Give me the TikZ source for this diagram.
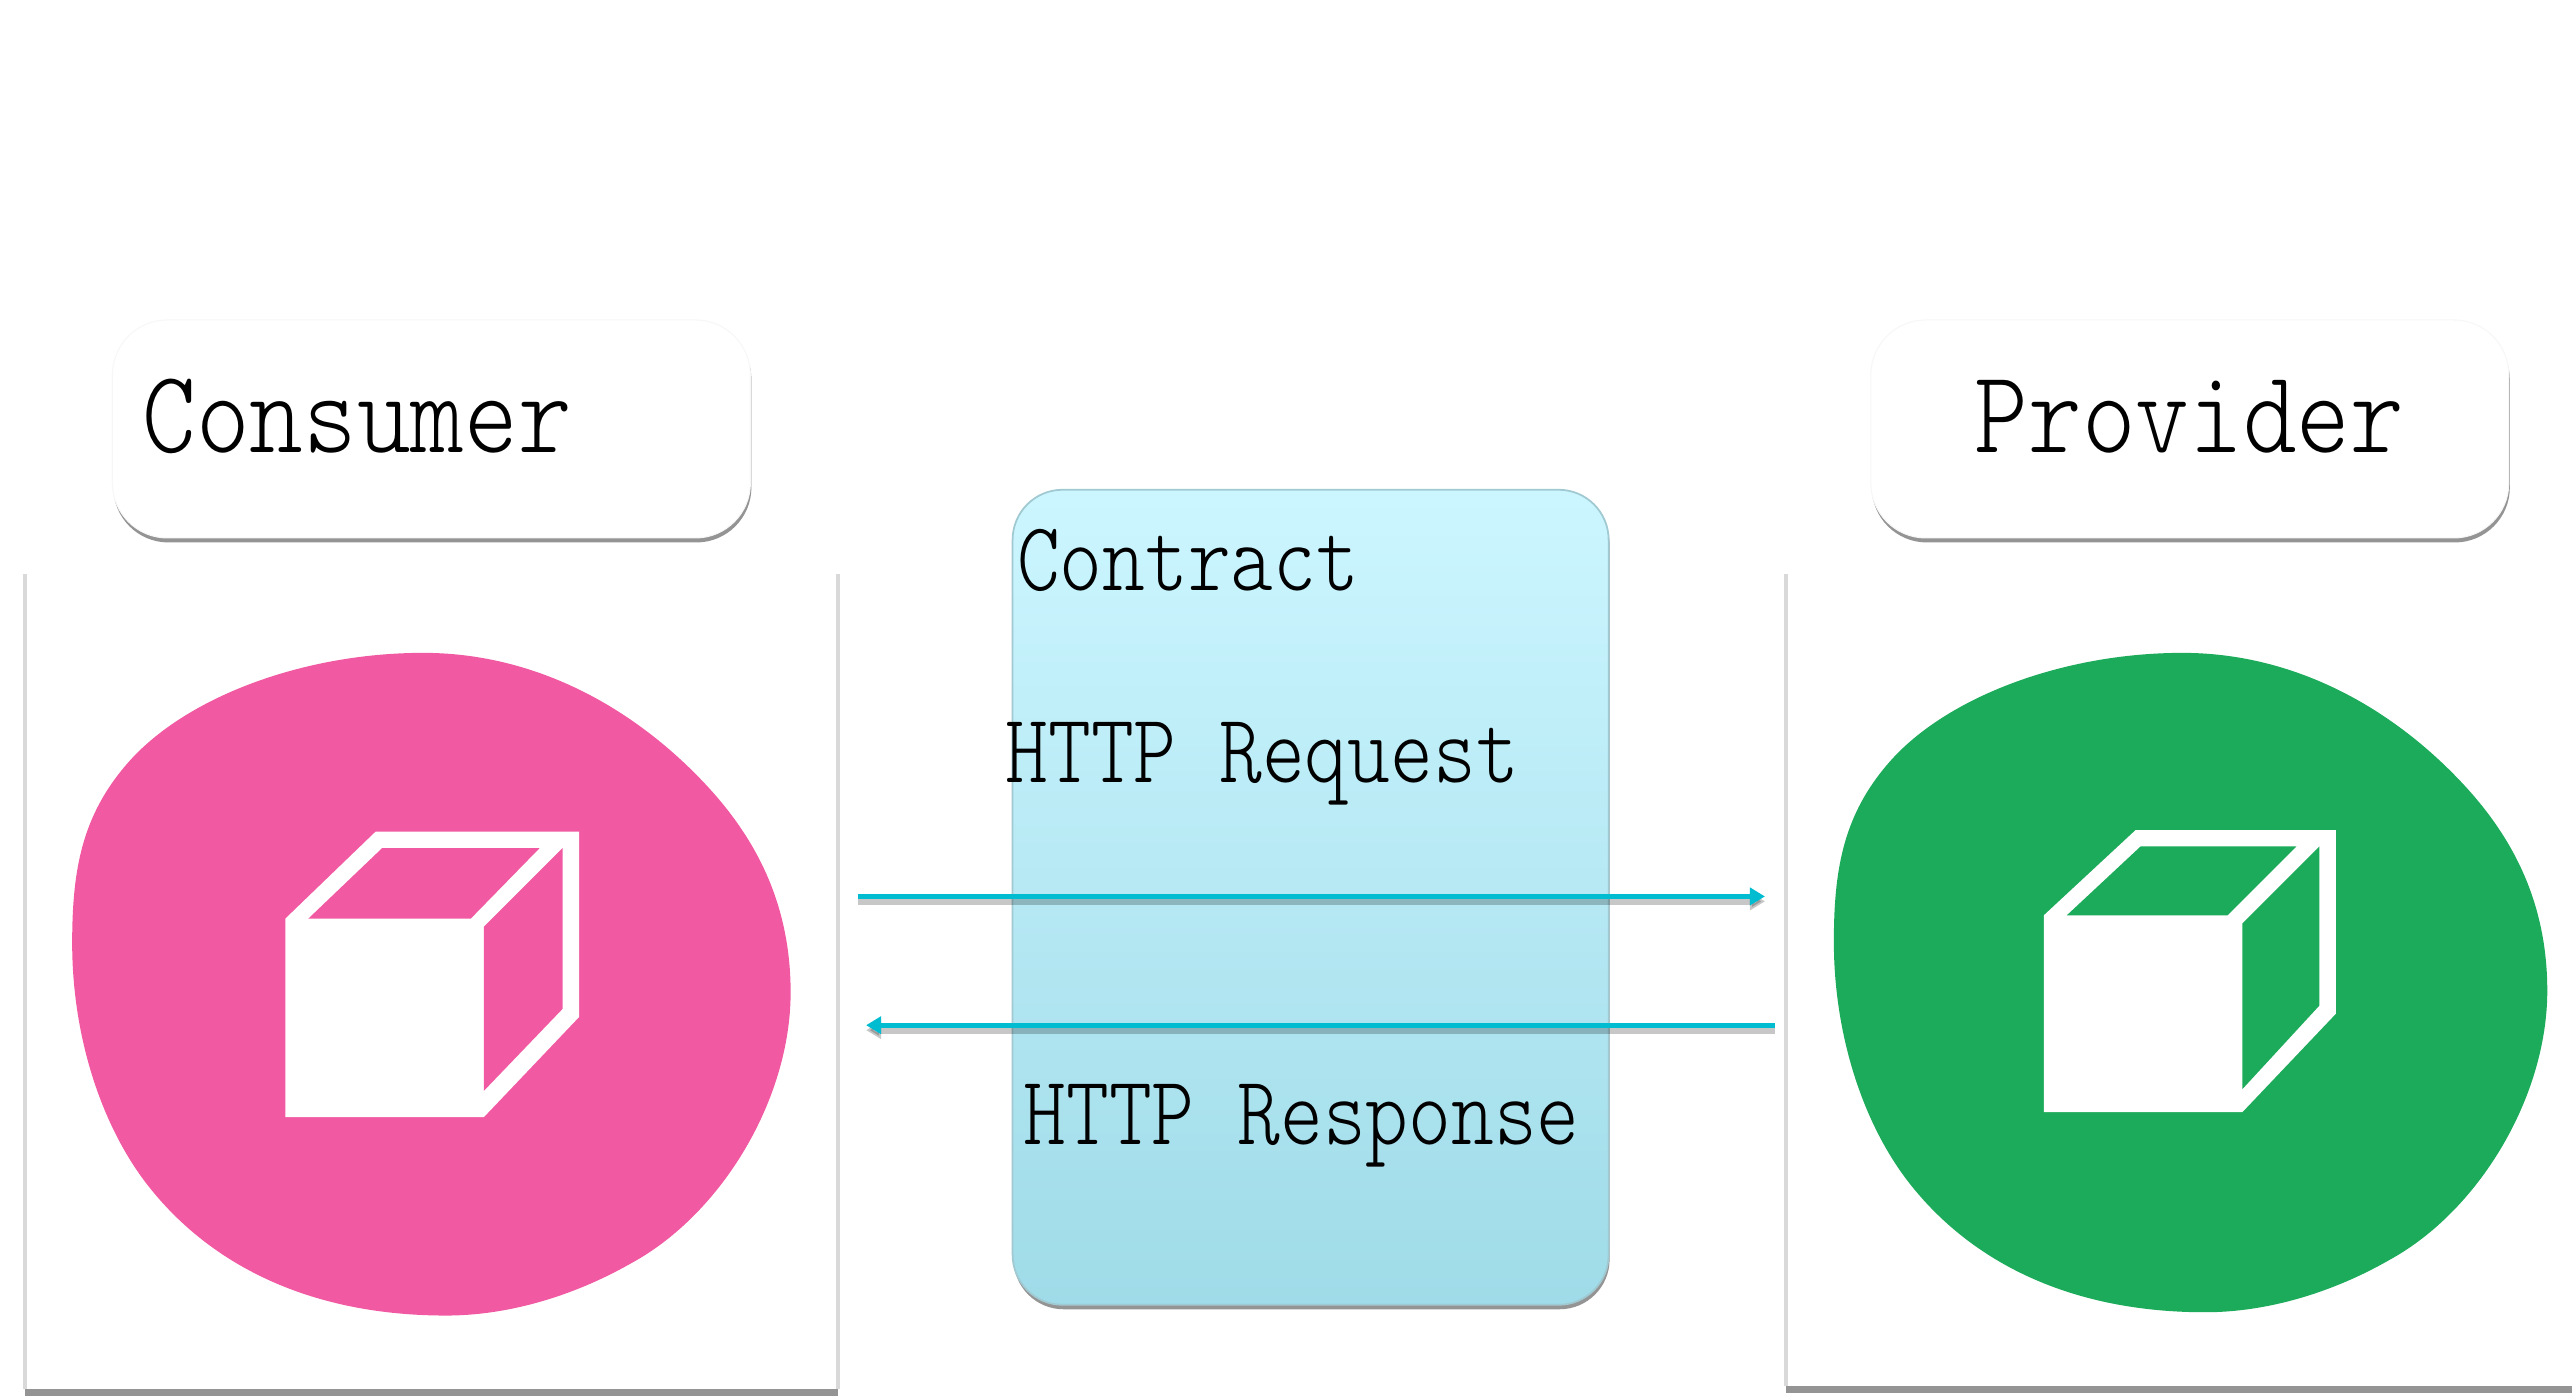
\documentclass[tikz,border=0pt]{standalone}
\usepackage{graphicx}
\usetikzlibrary{arrows.meta,shadows,calc}
\definecolor{pinkblob}{HTML}{F15AA2}
\definecolor{greenblob}{HTML}{1BAB5A}
\definecolor{arrowcol}{HTML}{00BCD0}
\definecolor{ctop}{HTML}{CCF6FF}
\definecolor{cbot}{HTML}{9FDBE8}
\newcommand{\biglabel}[1]{\fontsize{33.6}{36}\ttfamily\fontseries{l}\selectfont\scalebox{.865}[1]{#1}}
\newcommand{\midlabel}[1]{\fontsize{28}{30}\ttfamily\fontseries{l}\selectfont\scalebox{.828}[1]{#1}}
\newcommand{\blobpath}{(258,398) .. controls (325,398) and (385,430) .. (430,478)
  .. controls (460,510) and (482,550) .. (482,605)
  .. controls (482,670) and (440,740) .. (385,770)
  .. controls (350,790) and (310,802) .. (272,802)
  .. controls (190,802) and (130,772) .. (92,725)
  .. controls (62,688) and (44,632) .. (44,575)
  .. controls (44,530) and (50,497) .. (78,465)
  .. controls (113,425) and (185,398) .. (258,398) -- cycle}
\tikzset{
  x=0.016403cm,y=-0.016403cm,
  softshadow/.style={general shadow={fill=black!42,shadow yshift=-0.045cm,shadow xshift=0.01cm}},
  labelbox/.style={draw=black!3,line width=.3pt,fill=white,rounded corners=0.55cm,minimum width=6.38cm,minimum height=2.18cm,inner sep=0pt,softshadow},
  contractbox/.style={draw=ctop!65!cbot!85!black,line width=.5pt,top color=ctop,bottom color=cbot,rounded corners=0.5cm,minimum width=5.96cm,minimum height=8.15cm,inner sep=0pt,softshadow},
  textlabel/.style={anchor=base west,inner sep=0pt,outer sep=0pt,text=black},
  flow/.style={draw=arrowcol,line width=0.05cm,-{Triangle[length=0.15cm,width=0.17cm]}},
  flowshade/.style={draw=black,opacity=.22,line width=0.07cm,-{Triangle[length=0.15cm,width=0.17cm]}},
  sideedge/.style={draw=black!15,line width=0.04cm},
  bottomedge/.style={draw=black!42,line width=0.07cm},
}
\begin{document}
\begin{tikzpicture}
\useasboundingbox (0,0) rectangle (1568,850.45);
\fill[white] (0,0) rectangle (1568,850.45);

% white panels with their edges
\coordinate (lpa) at (15,350); \coordinate (lpb) at (15,847);
\coordinate (lpc) at (511,847); \coordinate (lpd) at (511,350);
\coordinate (rpa) at (1089,350); \coordinate (rpb) at (1089,845);
\coordinate (rpc) at (1568,845);
\draw[sideedge] (lpa) -- (lpb);
\draw[sideedge] (lpd) -- (lpc);
\draw[sideedge] (rpa) -- (rpb);
\draw[bottomedge] ($(lpb)+(0,2)$) -- ($(lpc)+(0,2)$);
\draw[bottomedge] ($(rpb)+(0,2)$) -- ($(rpc)+(0,2)$);

% blobs
\fill[pinkblob] \blobpath;
\begin{scope}[shift={(1074.3,2)},xscale=.993,yscale=.995]
\fill[greenblob] \blobpath;
\end{scope}

% consumer cube
\fill[white] (174,560) -- (229,507) -- (353,507) -- (353,620) -- (295,681) -- (174,681) -- cycle;
\fill[pinkblob] (188,560) -- (233,517) -- (329,517) -- (287,560) -- cycle;
\fill[pinkblob] (295,565) -- (343,517) -- (343,615) -- (295,665) -- cycle;
% provider cube
\fill[white] (1246,558) -- (1302,506) -- (1424,506) -- (1424,618) -- (1367,678) -- (1246,678) -- cycle;
\fill[greenblob] (1260,558) -- (1305,516) -- (1400,516) -- (1358,558) -- cycle;
\fill[greenblob] (1367,563) -- (1414,516) -- (1414,613) -- (1367,664) -- cycle;

% boxes
\node[labelbox] (consumerbox) at (263,261.5) {};
\node[labelbox] (providerbox) at (1335,261.5) {};
\node[contractbox] (contractrect) at (799,547) {};

% arrows
\coordinate (reqa) at (523,546.5); \coordinate (reqb) at (1076,546.5);
\coordinate (resa) at (1082,625); \coordinate (resb) at (528,625);
\draw[flowshade] ($(reqa)+(0,3)$) -- ($(reqb)+(0,3)$);
\draw[flowshade] ($(resa)+(0,3)$) -- ($(resb)+(0,3)$);
\draw[flow] (reqa) -- (reqb);
\draw[flow] (resa) -- (resb);

% labels
\node[textlabel] (consumer) at (87,276) {\biglabel{Consumer}};
\node[textlabel] (provider) at (1204,276) {\biglabel{Provider}};
\node[textlabel] (contract) at (620,360) {\midlabel{Contract}};
\node[textlabel] (request) at (613,477) {\midlabel{HTTP Request}};
\node[textlabel] (response) at (624,698) {\midlabel{HTTP Response}};
\end{tikzpicture}
\end{document}
